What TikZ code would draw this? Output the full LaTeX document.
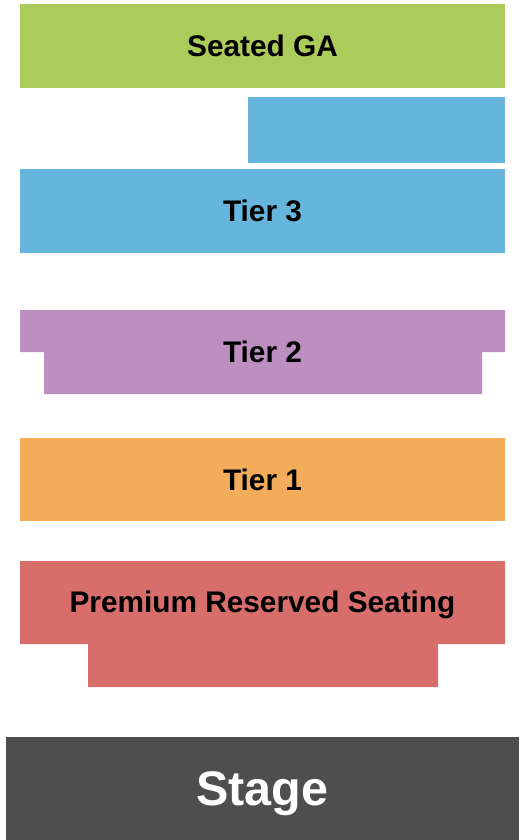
\documentclass[tikz,border=0pt]{standalone}
\usepackage{fontspec}
\setmainfont{Liberation Sans}
\definecolor{gaGreen}{HTML}{ABCB5B}
\definecolor{tierBlue}{HTML}{66B5DC}
\definecolor{tierPurple}{HTML}{BD8FC1}
\definecolor{tierOrange}{HTML}{F3AD5A}
\definecolor{premRed}{HTML}{D76E6C}
\definecolor{stageGrey}{HTML}{4E4E4E}
\tikzset{
  label/.style={font=\bfseries\fontsize{29.8}{34}\selectfont, text=black, inner sep=0pt, anchor=base},
  stagelabel/.style={font=\bfseries\fontsize{48.5}{54}\selectfont, text=white, inner sep=0pt, anchor=base},
}
\begin{document}
\begin{tikzpicture}[x=1pt,y=-1pt]
\useasboundingbox (0,0) rectangle (525,840);
% Seated GA
\fill[gaGreen] (20,4) rectangle (505,88);
% small blue block
\fill[tierBlue] (248,97) rectangle (505,163);
% Tier 3
\fill[tierBlue] (20,169) rectangle (505,253);
% Tier 2
\fill[tierPurple] (20,310) -- (505,310) -- (505,352) -- (482,352) -- (482,394) -- (44,394) -- (44,352) -- (20,352) -- cycle;
% Tier 1
\fill[tierOrange] (20,438) rectangle (505,521);
% Premium
\fill[premRed] (20,561) -- (505,561) -- (505,644) -- (438,644) -- (438,687) -- (88,687) -- (88,644) -- (20,644) -- cycle;
% Stage
\fill[stageGrey] (6,737) rectangle (519,840);
\node[label] (ga) at (262.5,56.5) {Seated GA};
\node[label] (t3) at (262.5,221.5) {Tier 3};
\node[label] (t2) at (262.5,362.5) {Tier 2};
\node[label] (t1) at (262.5,490) {Tier 1};
\node[label] (prem) at (262.5,612) {Premium Reserved Seating};
\node[stagelabel] (stage) at (262.5,805) {Stage};
\end{tikzpicture}
\end{document}
